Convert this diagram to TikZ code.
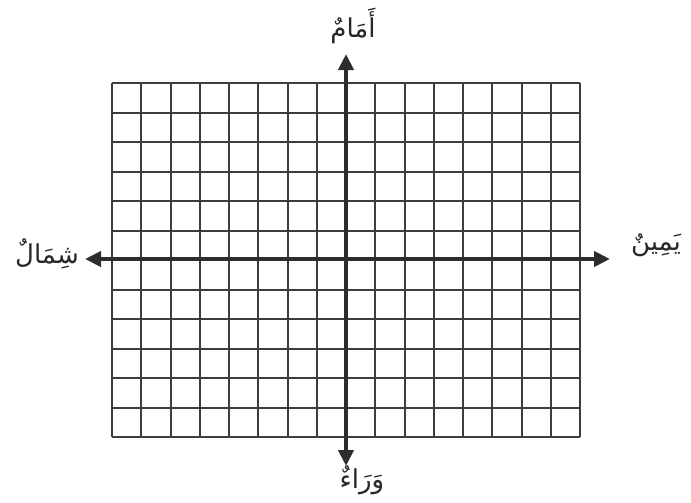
\documentclass[tikz,border=0pt]{standalone}
\usepackage{fontspec}
\newfontfamily\arabicfont[Script=Arabic]{DejaVu Sans}
\TeXXeTstate=1
\usepackage{xcolor}
\definecolor{GridGray}{RGB}{60,60,66}
\definecolor{AxisDark}{RGB}{45,45,48}
\definecolor{TextDark}{RGB}{40,40,40}
\usetikzlibrary{arrows.meta, positioning, calc}
\tikzset{
  % Grid lines
  gridline/.style={GridGray, line width=1pt},
  % Axes with arrow heads at both ends
  axisline/.style={
    AxisDark, line width=2.3pt,
    {Triangle[length=8pt,width=7.5pt]}-{Triangle[length=8pt,width=7.5pt]}
  },
  % Direction labels
  dirlabel/.style={
    font=\arabicfont\fontsize{13}{15}\selectfont,
    text=TextDark, inner sep=1pt
  },
}

\begin{document}
\begin{tikzpicture}[x=0.5pt, y=-0.5pt]

  %% Frame of the picture
  \useasboundingbox (0,0) rectangle (691,503);

  %% Grid: 16 columns, 12 rows
  \coordinate (gridNW) at (112,83);
  \coordinate (gridSE) at (580,437);
  \foreach \i in {0,...,16}
    \draw[gridline] ($(gridNW)+(\i*29.25,0)$) -- ($(gridNW)+(\i*29.25,354)$);
  \foreach \j in {0,...,12}
    \draw[gridline] ($(gridNW)+(0,\j*29.5)$) -- ($(gridNW)+(468,\j*29.5)$);

  %% Axis end points
  \coordinate (west) at (85,259);
  \coordinate (east) at (610,259);
  \coordinate (north) at (346,54);
  \coordinate (south) at (346,466);

  %% Axes
  \draw[axisline] (west) -- (east);
  \draw[axisline] (south) -- (north);

  %% Labels
  \node[dirlabel] (front) at (353,26) {\beginR أَمَامٌ\endR};
  \node[dirlabel] (left) at (47,254) {\beginR شِمَالٌ\endR};
  \node[dirlabel] (right) at (656,245) {\beginR يَمِينٌ\endR};
  \node[dirlabel] (back) at (362,480) {\beginR وَرَاءٌ\endR};

\end{tikzpicture}
\end{document}
